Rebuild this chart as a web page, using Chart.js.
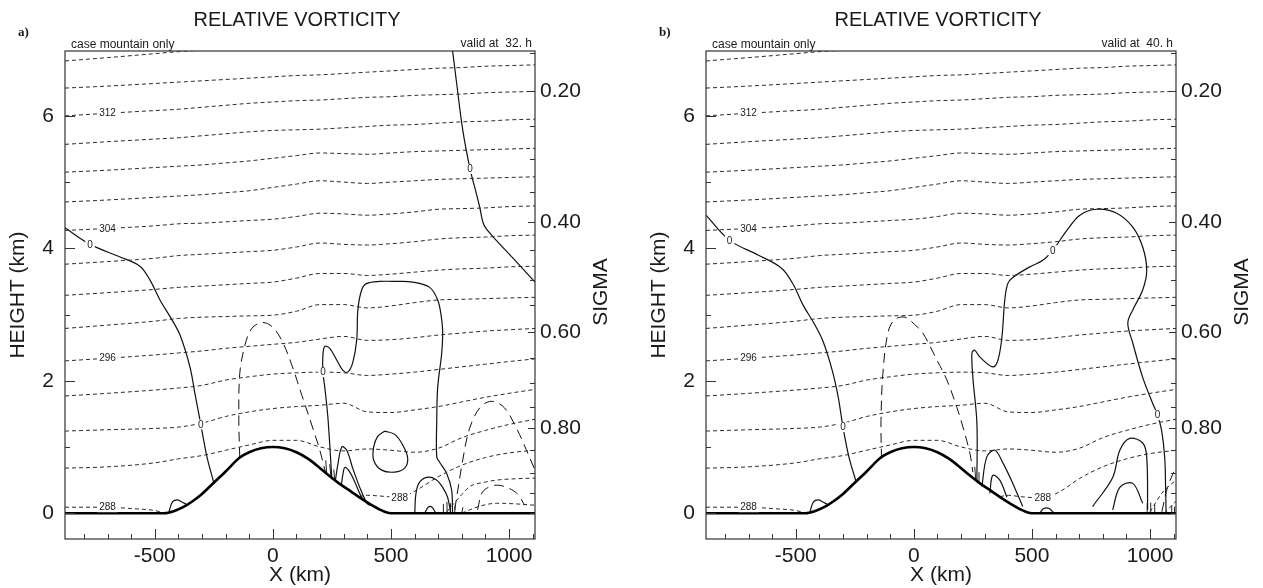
<!DOCTYPE html>
<html>
<head>
<meta charset="utf-8">
<script src="https://cdn.jsdelivr.net/npm/chart.js@4.4.1/dist/chart.umd.min.js"></script>
<style>
  html, body { margin: 0; padding: 0; background: #fff; }
  #wrap { position: relative; width: 1263px; height: 588px; overflow: hidden; }
  canvas { position: absolute; top: 0; }
  #panel-a { left: 0; }
  #panel-b { left: 641px; }
</style>
</head>
<body>
<div id="wrap">
  <canvas id="panel-a" width="641" height="588"></canvas>
  <canvas id="panel-b" width="622" height="588"></canvas>
</div>
<script>
/* Vertical cross-section: relative vorticity (solid = 0 / positive, dashed = negative)
   with potential temperature isentropes (dotted) over a bell-shaped ridge. */

// ---------- axes ----------
const xTickValues = [-800, -700, -600, -500, -400, -300, -200, -100, 0, 100, 200, 300, 400, 500, 600, 700, 800, 900, 1000, 1100];
const xLabelValues = [-500, 0, 500, 1000];
const heightTickValues = [0, 1, 2, 3, 4, 5, 6];
const heightLabelValues = [0, 2, 4, 6];
const sigmaTickLevels  = [0.15, 0.20, 0.25, 0.30, 0.35, 0.40, 0.45, 0.50, 0.55, 0.60, 0.65, 0.70, 0.75, 0.80, 0.85, 0.90, 0.95, 1.00];
const sigmaTickHeights = [6.95, 6.37, 5.85, 5.35, 4.85, 4.40, 3.97, 3.52, 3.14, 2.73, 2.34, 1.96, 1.60, 1.28, 0.95, 0.60, 0.30, 0.00];
const sigmaLabelLevels = [0.20, 0.40, 0.60, 0.80];

// ---------- terrain (km) ----------
const terrain = [[-880, 0], [-460, 0], [-420, 0.03], [-380, 0.09], [-340, 0.18], [-300, 0.29], [-250, 0.46], [-200, 0.63],
  [-140, 0.84], [-100, 0.92], [-50, 0.98], [0, 1.0], [50, 0.98], [100, 0.92], [150, 0.82], [200, 0.68], [240, 0.56],
  [280, 0.45], [330, 0.33], [370, 0.23], [410, 0.14], [450, 0.06], [500, 0], [1110, 0]];

// ---------- isentropes (K), heights in km on a common x grid ----------
const thetaX = [-880, -700, -500, -400, -300, -200, -100, 0, 100, 200, 300, 400, 500, 600, 700, 800, 900, 1000, 1110];
const thetaLevels = [316, 314, 312, 310, 308, 306, 304, 302, 300, 298, 296, 294, 292, 290];

const thetaHeightsA = [
  [6.83, 6.88, 6.94, 6.97, 6.99, 7.00, 7.01, 7.02, 7.03, 7.04, 7.05, 7.06, 7.07, 7.08, 7.09, 7.10, 7.11, 7.12, 7.13],
  [6.42, 6.45, 6.49, 6.51, 6.53, 6.55, 6.57, 6.59, 6.61, 6.62, 6.64, 6.66, 6.68, 6.70, 6.72, 6.73, 6.75, 6.76, 6.77],
  [6.00, 6.04, 6.08, 6.10, 6.13, 6.16, 6.19, 6.21, 6.23, 6.24, 6.26, 6.28, 6.29, 6.31, 6.32, 6.33, 6.35, 6.36, 6.37],
  [5.57, 5.61, 5.65, 5.67, 5.70, 5.73, 5.76, 5.78, 5.79, 5.80, 5.82, 5.84, 5.86, 5.87, 5.89, 5.91, 5.92, 5.94, 5.95],
  [5.15, 5.18, 5.22, 5.24, 5.26, 5.29, 5.32, 5.36, 5.40, 5.44, 5.43, 5.42, 5.44, 5.46, 5.47, 5.48, 5.49, 5.50, 5.51],
  [4.70, 4.73, 4.77, 4.79, 4.81, 4.84, 4.87, 4.92, 4.97, 5.02, 5.00, 4.98, 5.00, 5.02, 5.04, 5.05, 5.06, 5.07, 5.08],
  [4.27, 4.30, 4.34, 4.37, 4.38, 4.40, 4.42, 4.44, 4.48, 4.53, 4.52, 4.50, 4.52, 4.55, 4.59, 4.60, 4.61, 4.63, 4.64],
  [3.76, 3.80, 3.85, 3.89, 3.91, 3.93, 3.95, 3.97, 4.02, 4.08, 4.06, 4.05, 4.07, 4.10, 4.14, 4.16, 4.17, 4.19, 4.20],
  [3.29, 3.33, 3.38, 3.41, 3.43, 3.45, 3.47, 3.49, 3.55, 3.62, 3.62, 3.59, 3.61, 3.64, 3.67, 3.69, 3.70, 3.72, 3.73],
  [2.79, 2.84, 2.90, 2.94, 2.96, 2.97, 2.98, 2.99, 3.05, 3.15, 3.15, 3.10, 3.13, 3.18, 3.22, 3.23, 3.24, 3.25, 3.26],
  [2.30, 2.34, 2.39, 2.42, 2.45, 2.49, 2.52, 2.55, 2.58, 2.63, 2.67, 2.61, 2.62, 2.65, 2.69, 2.72, 2.75, 2.77, 2.79],
  [1.77, 1.81, 1.86, 1.89, 1.93, 2.01, 2.06, 2.10, 2.12, 2.13, 2.12, 2.08, 2.10, 2.13, 2.17, 2.21, 2.25, 2.29, 2.33],
  [1.24, 1.26, 1.28, 1.30, 1.36, 1.46, 1.53, 1.58, 1.61, 1.63, 1.66, 1.53, 1.52, 1.56, 1.61, 1.68, 1.75, 1.81, 1.87],
  [0.68, 0.70, 0.76, 0.82, 0.87, 0.95, 1.03, 1.10, 1.10, 1.00, 0.94, 0.97, 0.95, 0.92, 0.98, 1.14, 1.25, 1.34, 1.42],
];

const thetaHeightsB = [
  [6.83, 6.88, 6.94, 6.97, 6.99, 7.00, 7.01, 7.02, 7.03, 7.04, 7.05, 7.06, 7.07, 7.08, 7.09, 7.10, 7.11, 7.12, 7.13],
  [6.42, 6.45, 6.49, 6.51, 6.53, 6.55, 6.57, 6.59, 6.61, 6.62, 6.64, 6.66, 6.68, 6.70, 6.72, 6.73, 6.75, 6.76, 6.77],
  [6.00, 6.04, 6.08, 6.10, 6.13, 6.16, 6.19, 6.21, 6.23, 6.24, 6.26, 6.28, 6.29, 6.31, 6.32, 6.33, 6.35, 6.36, 6.37],
  [5.57, 5.61, 5.65, 5.67, 5.70, 5.73, 5.76, 5.78, 5.79, 5.80, 5.82, 5.84, 5.86, 5.87, 5.89, 5.91, 5.92, 5.94, 5.95],
  [5.15, 5.18, 5.22, 5.24, 5.26, 5.29, 5.32, 5.36, 5.40, 5.44, 5.43, 5.42, 5.44, 5.46, 5.47, 5.48, 5.49, 5.50, 5.51],
  [4.70, 4.73, 4.77, 4.79, 4.81, 4.84, 4.87, 4.92, 4.97, 5.02, 5.00, 4.98, 5.00, 5.02, 5.04, 5.05, 5.06, 5.07, 5.08],
  [4.27, 4.30, 4.34, 4.37, 4.38, 4.40, 4.42, 4.44, 4.48, 4.53, 4.52, 4.50, 4.52, 4.55, 4.59, 4.60, 4.61, 4.63, 4.64],
  [3.76, 3.80, 3.85, 3.89, 3.91, 3.93, 3.95, 3.97, 4.02, 4.08, 4.06, 4.05, 4.07, 4.10, 4.14, 4.16, 4.17, 4.19, 4.20],
  [3.29, 3.33, 3.38, 3.41, 3.43, 3.45, 3.47, 3.49, 3.55, 3.62, 3.62, 3.59, 3.61, 3.64, 3.67, 3.69, 3.70, 3.72, 3.73],
  [2.79, 2.84, 2.90, 2.94, 2.96, 2.97, 2.98, 2.99, 3.05, 3.15, 3.15, 3.10, 3.13, 3.18, 3.22, 3.23, 3.24, 3.25, 3.26],
  [2.30, 2.34, 2.39, 2.42, 2.45, 2.49, 2.52, 2.55, 2.58, 2.63, 2.67, 2.61, 2.62, 2.65, 2.69, 2.72, 2.75, 2.77, 2.79],
  [1.77, 1.81, 1.86, 1.89, 1.93, 2.01, 2.06, 2.10, 2.12, 2.13, 2.12, 2.08, 2.10, 2.13, 2.17, 2.21, 2.25, 2.29, 2.33],
  [1.24, 1.26, 1.28, 1.30, 1.36, 1.46, 1.53, 1.58, 1.61, 1.63, 1.66, 1.53, 1.52, 1.56, 1.61, 1.68, 1.75, 1.81, 1.87],
  [0.68, 0.70, 0.76, 0.82, 0.87, 0.95, 1.03, 1.10, 1.10, 1.00, 0.94, 0.97, 0.95, 0.92, 0.98, 1.14, 1.25, 1.34, 1.42],
];

// lowest isentropes, cut by the ground
const theta288WestA = [[-880, 0.09], [-700, 0.09], [-600, 0.07], [-500, 0.04], [-455, 0.0]];
const theta288EastA = [[365, 0.25], [400, 0.27], [450, 0.26], [537, 0.24], [609, 0.35], [700, 0.55], [804, 0.73], [900, 0.84], [1000, 0.91], [1110, 0.95]];
const theta286A = [[736, 0.02], [800, 0.28], [833, 0.40], [900, 0.47], [948, 0.50], [1030, 0.52], [1110, 0.53]];
const theta284A = [[800, 0.0], [833, 0.05], [880, 0.11], [948, 0.15], [1030, 0.14], [1110, 0.12]];

const theta288WestB = [[-880, 0.09], [-700, 0.09], [-600, 0.07], [-500, 0.04], [-455, 0.0]];
const theta288EastB = [[365, 0.25], [400, 0.27], [450, 0.25], [546, 0.23], [620, 0.33], [700, 0.52], [800, 0.70], [900, 0.82], [1000, 0.90], [1110, 0.95]];
const theta286B = [[1000, 0.02], [1050, 0.30], [1110, 0.50]];
const theta284B = [[1060, 0.0], [1110, 0.18]];

// ---------- vorticity contours, 32 h ----------
const zeroWestA = [[-880, 4.31], [-774, 4.06], [-647, 3.87], [-563, 3.73], [-520, 3.52], [-478, 3.22], [-427, 2.92],
  [-393, 2.69], [-351, 2.21], [-330, 1.81], [-305, 1.34], [-279, 0.85], [-250, 0.46]];
const zeroMidA = [[250, 0.51], [245, 0.80], [233, 1.45], [220, 1.90], [212, 2.13], [212, 2.39], [220, 2.52], [241, 2.49],
  [271, 2.31], [296, 2.16], [317, 2.13], [338, 2.27], [355, 2.61], [360, 3.07], [376, 3.37], [398, 3.47], [453, 3.50],
  [525, 3.50], [592, 3.49], [664, 3.41], [698, 3.22], [712, 3.00], [719, 2.76], [715, 2.42], [698, 1.90], [694, 1.40],
  [694, 0.85], [706, 0.77], [736, 0.60], [757, 0.35], [761, 0.0]];
const zeroNorthEastA = [[757, 7.1], [778, 6.5], [804, 5.79], [835, 5.2], [860, 4.85], [876, 4.62], [893, 4.36],
  [926, 4.20], [1015, 3.86], [1110, 3.49]];
const loopA = [[474, 1.24], [516, 1.19], [550, 1.03], [571, 0.83], [558, 0.68], [516, 0.62], [461, 0.65], [427, 0.80],
  [427, 1.00], [444, 1.16], [474, 1.24]];
const lobeOuterA = [[265, 0.50], [275, 0.73], [292, 1.00], [313, 0.95], [338, 0.68], [368, 0.39], [398, 0.15], [410, 0.12]];
const lobeInnerA = [[290, 0.42], [296, 0.57], [305, 0.69], [326, 0.62], [347, 0.47], [376, 0.24], [393, 0.17]];
const lobeLeeA = [[601, 0.0], [605, 0.27], [618, 0.45], [651, 0.54], [690, 0.51], [719, 0.39], [740, 0.24], [753, 0.0]];
const bumpSurfaceA = [[643, 0.0], [658, 0.09], [674, 0.09], [690, 0.0]];
const bumpFootA = [[-440, 0.02], [-425, 0.17], [-405, 0.20], [-385, 0.17], [-365, 0.13]];
const hatchA = [
  [[228, 0.60], [224, 0.80]], [[246, 0.54], [241, 0.74]], [[262, 0.49], [258, 0.66]],
  [[724, 0.0], [722, 0.14]], [[738, 0.0], [737, 0.17]], [[752, 0.0], [752, 0.15]],
  [[770, 0.0], [772, 0.12]], [[800, 0.0], [805, 0.09]]
];
const negDomeA = [[-140, 0.84], [-144, 1.40], [-140, 2.11], [-118, 2.54], [-89, 2.79], [-47, 2.88], [-4, 2.82],
  [38, 2.61], [80, 2.24], [123, 1.78], [165, 1.33], [199, 0.95], [224, 0.60]];
const negArchA = [[770, 0.05], [804, 0.80], [833, 1.28], [876, 1.59], [926, 1.69], [981, 1.59], [1032, 1.28], [1074, 0.95], [1110, 0.65]];
const negInnerA = [[867, 0.05], [888, 0.32], [939, 0.42], [990, 0.39], [1036, 0.29], [1066, 0.12]];

// ---------- vorticity contours, 40 h ----------
const zeroWestB = [[-880, 4.50], [-780, 4.12], [-660, 3.90], [-560, 3.70], [-510, 3.45], [-470, 3.15], [-420, 2.85],
  [-385, 2.60], [-345, 2.15], [-320, 1.75], [-300, 1.30], [-275, 0.85], [-245, 0.48]];
const zeroMidB = [[267, 0.47], [267, 1.36], [250, 2.05], [246, 2.42], [258, 2.46], [279, 2.36], [334, 2.21], [356, 2.31],
  [373, 2.66], [385, 3.22], [398, 3.47], [419, 3.56], [491, 3.72], [546, 3.82], [588, 3.97], [648, 4.27], [703, 4.50],
  [774, 4.59], [859, 4.53], [927, 4.32], [969, 4.02], [986, 3.67], [969, 3.37], [927, 3.07], [906, 2.87], [927, 2.57],
  [969, 2.05], [1011, 1.66], [1032, 1.48], [1049, 1.25], [1062, 0.85], [1066, 0.40], [1068, 0.0]];
const lobeOuterB = [[288, 0.40], [309, 0.85], [343, 0.95], [377, 0.76], [419, 0.45], [461, 0.10]];
const lobeInnerB = [[322, 0.30], [334, 0.57], [364, 0.50], [394, 0.24]];
const lobeLeeB = [[757, 0.10], [842, 0.54], [872, 0.95], [914, 1.13], [969, 1.06], [986, 0.85], [990, 0.05]];
const lobeLeeInnerB = [[842, 0.05], [872, 0.39], [927, 0.45], [969, 0.15]];
const bumpSurfaceB = [[533, 0.0], [550, 0.07], [573, 0.07], [593, 0.0]];
const bumpFootB = [[-440, 0.02], [-425, 0.17], [-405, 0.20], [-385, 0.17], [-365, 0.13]];
const hatchB = [
  [[262, 0.50], [258, 0.70]], [[280, 0.45], [276, 0.62]],
  [[990, 0.0], [988, 0.15]], [[1003, 0.0], [1003, 0.16]], [[1018, 0.0], [1020, 0.13]],
  [[1090, 0.0], [1092, 0.12]], [[1102, 0.0], [1104, 0.10]]
];
const negDomeB = [[-137, 0.82], [-139, 1.40], [-131, 2.11], [-110, 2.72], [-82, 2.92], [-38, 2.96], [3, 2.85],
  [38, 2.72], [98, 2.31], [140, 2.01], [182, 1.60], [208, 1.30], [237, 0.91], [250, 0.62]];
const negEdgeB = [[1050, 0.02], [1075, 0.40], [1110, 0.70]];

// ---------- helpers ----------
const FONT = '"Liberation Sans", Arial, sans-serif';
const INK = '#1a1a1a';

const pts = list => list.map(([x, h]) => ({ x, y: h }));
const gridPts = row => thetaX.map((x, i) => ({ x, y: row[i] }));

function thetaSet(data) {
  return { data, borderColor: '#2b2b2b', borderWidth: 1, borderDash: [4, 3], pointRadius: 0,
           cubicInterpolationMode: 'monotone', fill: false };
}
function contourSet(data, dashed) {
  return { data, borderColor: '#111', borderWidth: dashed ? 1 : 1.2, borderDash: dashed ? [10, 6] : [],
           pointRadius: 0, tension: 0.35, fill: false };
}
function hatchSet(data) {
  return { data, borderColor: '#222', borderWidth: 1, pointRadius: 0, tension: 0, fill: false };
}
function terrainSet() {
  return { data: pts(terrain), borderColor: '#000', borderWidth: 2.6, pointRadius: 0,
           cubicInterpolationMode: 'monotone', fill: false };
}

function buildDatasets(p) {
  const sets = [terrainSet()];
  p.theta.forEach(row => sets.push(thetaSet(gridPts(row))));
  p.thetaLow.forEach(list => sets.push(thetaSet(pts(list))));
  p.solid.forEach(list => sets.push(contourSet(pts(list), false)));
  p.dashed.forEach(list => sets.push(contourSet(pts(list), true)));
  p.hatch.forEach(seg => sets.push(hatchSet(pts(seg))));
  return sets;
}

// contour labels sit on a vertex of the line they name
function thetaLabels(rows, lowWest, lowEast, eastIdx) {
  const col = 1; // x = -700 km
  const out = [];
  [2, 6, 10].forEach(r => out.push({ text: String(thetaLevels[r]), x: thetaX[col], h: rows[r][col] }));
  out.push({ text: '288', x: lowWest[1][0], h: lowWest[1][1] });
  out.push({ text: '288', x: lowEast[eastIdx][0], h: lowEast[eastIdx][1] });
  return out;
}
const zeroLabel = (list, i) => ({ text: '0', x: list[i][0], h: list[i][1] });

// ---------- drawing plugin: frame, inward ticks, labels, titles ----------
const panelDecor = {
  id: 'panelDecor',
  afterDatasetsDraw(chart, args, o) {
    const { ctx, chartArea: a, scales } = chart;
    const xs = scales.x, ys = scales.y, ss = scales.sigma;
    ctx.save();

    ctx.font = '10px ' + FONT;
    ctx.textAlign = 'center';
    ctx.textBaseline = 'middle';
    o.labels.forEach(l => {
      const px = xs.getPixelForValue(l.x), py = ys.getPixelForValue(l.h);
      const w = ctx.measureText(l.text).width + 4;
      ctx.fillStyle = '#fff';
      ctx.fillRect(px - w / 2, py - 5, w, 10);
      ctx.fillStyle = INK;
      ctx.fillText(l.text, px, py + 0.5);
    });

    ctx.strokeStyle = '#333';
    ctx.lineWidth = 1.2;
    ctx.strokeRect(a.left, a.top, a.right - a.left, a.bottom - a.top);

    ctx.lineWidth = 1;
    ctx.beginPath();
    xTickValues.forEach(v => {
      const px = Math.round(xs.getPixelForValue(v)) + 0.5;
      const len = xLabelValues.includes(v) ? 10 : 5;
      ctx.moveTo(px, a.bottom); ctx.lineTo(px, a.bottom - len);
    });
    heightTickValues.forEach(v => {
      const py = Math.round(ys.getPixelForValue(v)) + 0.5;
      const len = heightLabelValues.includes(v) ? 10 : 5;
      ctx.moveTo(a.left, py); ctx.lineTo(a.left + len, py);
    });
    sigmaTickHeights.forEach((h, i) => {
      const py = Math.round(ss.getPixelForValue(h)) + 0.5;
      const len = sigmaLabelLevels.includes(sigmaTickLevels[i]) ? 7 : 5;
      ctx.moveTo(a.right, py); ctx.lineTo(a.right - len, py);
    });
    ctx.stroke();
    ctx.restore();
  },
  afterDraw(chart, args, o) {
    const { ctx, chartArea: a } = chart;
    const cx = (a.left + a.right) / 2;
    const cy = (a.top + a.bottom) / 2;
    ctx.save();
    ctx.fillStyle = INK;
    ctx.textBaseline = 'middle';

    ctx.font = '20px ' + FONT;
    ctx.textAlign = 'center';
    ctx.fillText('RELATIVE VORTICITY', cx - 3, 20);

    ctx.font = 'bold 13px "Liberation Serif", serif';
    ctx.textAlign = 'left';
    ctx.fillText(o.tag, 18, 33);

    ctx.font = '12px ' + FONT;
    ctx.fillText('case mountain only', a.left + 6, 45);
    ctx.textAlign = 'right';
    ctx.fillText(o.valid, a.right - 3, 44);

    ctx.font = '21px ' + FONT;
    ctx.textAlign = 'center';
    ctx.fillText('X (km)', cx, 575);

    ctx.translate(18, cy);
    ctx.rotate(-Math.PI / 2);
    ctx.fillText('HEIGHT (km)', 0, 0);
    ctx.rotate(Math.PI / 2);
    ctx.translate(-18, -cy);

    ctx.translate(a.right + 66, cy - 3);
    ctx.rotate(-Math.PI / 2);
    ctx.fillText('SIGMA', 0, 0);
    ctx.restore();
  }
};

const tickFont = { family: FONT, size: 21 };

function makePanel(canvasId, p) {
  const canvas = document.getElementById(canvasId);
  return new Chart(canvas, {
    type: 'line',
    data: { datasets: buildDatasets(p) },
    options: {
      responsive: false,
      animation: false,
      events: [],
      layout: { padding: { top: 51, left: 0, right: 0, bottom: 0 } },
      plugins: {
        legend: { display: false },
        tooltip: { enabled: false },
        panelDecor: { tag: p.tag, valid: p.valid, labels: p.labels }
      },
      scales: {
        x: {
          type: 'linear', min: -880, max: 1110,
          grid: { display: false, drawTicks: false }, border: { display: false },
          afterBuildTicks: s => { s.ticks = xTickValues.map(v => ({ value: v })); },
          afterFit: s => { s.height = 49; },
          ticks: { autoSkip: false, maxRotation: 0, padding: 5, font: tickFont, color: INK,
                   callback: v => (xLabelValues.includes(v) ? String(v) : '') }
        },
        y: {
          type: 'linear', position: 'left', min: -0.39, max: 6.98,
          grid: { display: false, drawTicks: false }, border: { display: false },
          afterBuildTicks: s => { s.ticks = heightTickValues.map(v => ({ value: v })); },
          afterFit: s => { s.width = 65; },
          ticks: { autoSkip: false, padding: 11, font: tickFont, color: INK,
                   callback: v => (heightLabelValues.includes(v) ? String(v) : '') }
        },
        sigma: {
          axis: 'y', type: 'linear', position: 'right', min: -0.39, max: 6.98,
          grid: { display: false, drawTicks: false }, border: { display: false },
          afterBuildTicks: s => { s.ticks = sigmaTickHeights.slice().reverse().map(v => ({ value: v })); },
          afterFit: s => { s.width = canvas.width - 535; },
          ticks: { autoSkip: false, padding: 5, font: tickFont, color: INK,
                   callback: v => {
                     const lvl = sigmaTickLevels[sigmaTickHeights.indexOf(v)];
                     return sigmaLabelLevels.includes(lvl) ? lvl.toFixed(2) : '';
                   } }
        }
      }
    },
    plugins: [panelDecor]
  });
}

makePanel('panel-a', {
  tag: 'a)',
  valid: 'valid at  32. h',
  theta: thetaHeightsA,
  thetaLow: [theta288WestA, theta288EastA, theta286A, theta284A],
  solid: [zeroWestA, zeroMidA, zeroNorthEastA, loopA, lobeOuterA, lobeInnerA, lobeLeeA, bumpSurfaceA, bumpFootA],
  dashed: [negDomeA, negArchA, negInnerA],
  hatch: hatchA,
  labels: thetaLabels(thetaHeightsA, theta288WestA, theta288EastA, 3).concat([
    zeroLabel(zeroWestA, 1), zeroLabel(zeroWestA, 10), zeroLabel(zeroMidA, 4), zeroLabel(zeroNorthEastA, 3)
  ])
});

makePanel('panel-b', {
  tag: 'b)',
  valid: 'valid at  40. h',
  theta: thetaHeightsB,
  thetaLow: [theta288WestB, theta288EastB, theta286B, theta284B],
  solid: [zeroWestB, zeroMidB, lobeOuterB, lobeInnerB, lobeLeeB, lobeLeeInnerB, bumpSurfaceB, bumpFootB],
  dashed: [negDomeB, negEdgeB],
  hatch: hatchB,
  labels: thetaLabels(thetaHeightsB, theta288WestB, theta288EastB, 3).concat([
    zeroLabel(zeroWestB, 1), zeroLabel(zeroWestB, 10), zeroLabel(zeroMidB, 14), zeroLabel(zeroMidB, 28)
  ])
});
</script>
</body>
</html>
